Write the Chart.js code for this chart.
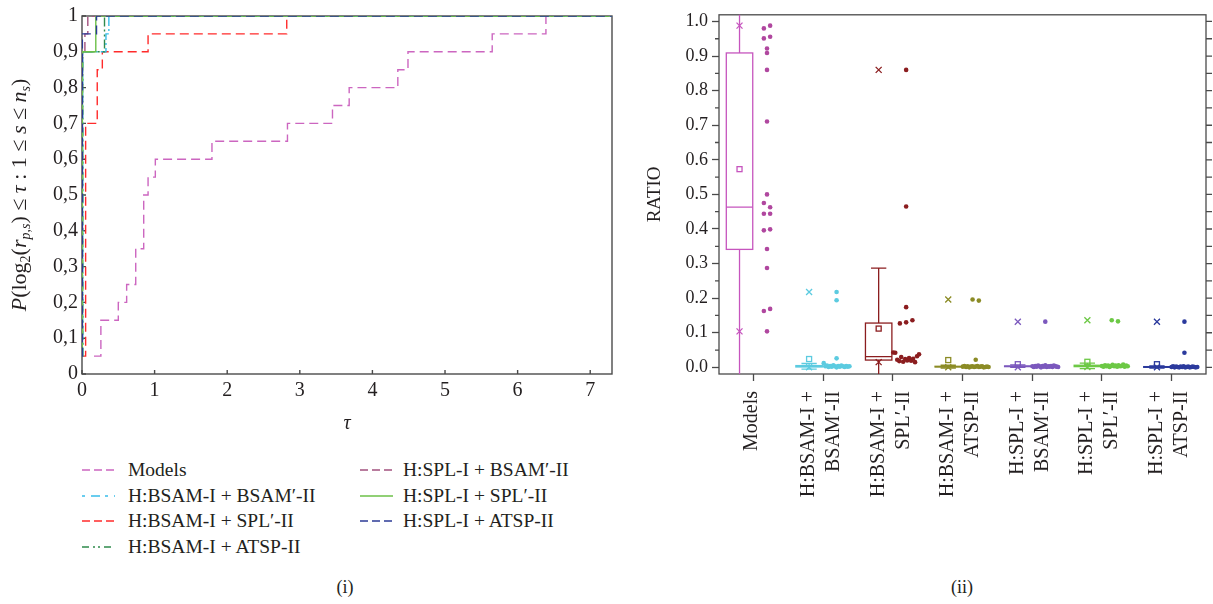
<!DOCTYPE html>
<html><head><meta charset="utf-8">
<script src="https://cdn.jsdelivr.net/npm/chart.js@4.4.0/dist/chart.umd.min.js"></script>
<style>
html,body{margin:0;padding:0;background:#fff;width:1213px;height:604px;overflow:hidden;position:relative;font-family:"Liberation Serif",serif;color:#231f20}
canvas{position:absolute}
#c1{left:0;top:0}
#c2{left:640px;top:0}
.lg{position:absolute;font-size:19.5px;line-height:26px;height:26px;white-space:nowrap}
.sw{position:absolute}
.cap{position:absolute;font-size:18px;transform:translateX(-50%)}
</style></head><body>
<canvas id="c1" width="625" height="440"></canvas>
<canvas id="c2" width="573" height="540"></canvas>
<div id="legend"></div>
<div class="cap" style="left:345px;top:577px">(i)</div>
<div class="cap" style="left:962px;top:577px">(ii)</div>
<script>
// ---------------- DATA: panel (i) performance profiles ----------------
const seriesNames = ['Models','H:BSAM-I + BSAM\u2032-II','H:BSAM-I + SPL\u2032-II','H:BSAM-I + ATSP-II','H:SPL-I + BSAM\u2032-II','H:SPL-I + SPL\u2032-II','H:SPL-I + ATSP-II'];
const tauModels   = [0.165, 0.26, 0.50, 0.615, 0.74, 0.85, 0.91, 1.01, 1.79, 2.83, 3.45, 3.68, 4.35, 4.49, 5.65, 6.39, 7.3];
const pModels     = [0.05, 0.15, 0.20, 0.25, 0.35, 0.50, 0.55, 0.60, 0.65, 0.70, 0.75, 0.80, 0.85, 0.90, 0.95, 1.00, 1.00];
const tauBsamBsam = [0, 0.01, 0.33, 0.37, 7.3];
const pBsamBsam   = [0.05, 0.90, 0.95, 1.00, 1.00];
const tauBsamSpl  = [0, 0.05, 0.21, 0.28, 0.91, 2.82, 7.3];
const pBsamSpl    = [0.05, 0.70, 0.85, 0.90, 0.95, 1.00, 1.00];
const tauBsamAtsp = [0, 0.01, 0.31, 7.3];
const pBsamAtsp   = [0.05, 0.90, 1.00, 1.00];
const tauSplBsam  = [0, 0.005, 0.04, 0.08, 7.3];
const pSplBsam    = [0.05, 0.90, 0.95, 1.00, 1.00];
const tauSplSpl   = [0, 0.005, 0.19, 7.3];
const pSplSpl     = [0.05, 0.90, 1.00, 1.00];
const tauSplAtsp  = [0, 0.005, 0.20, 7.3];
const pSplAtsp    = [0.05, 0.95, 1.00, 1.00];
const leftXTicks  = [0, 1, 2, 3, 4, 5, 6, 7];
const leftYTicks  = [0, 0.1, 0.2, 0.3, 0.4, 0.5, 0.6, 0.7, 0.8, 0.9, 1];
const leftYLabels = ['0','0,1','0,2','0,3','0,4','0,5','0,6','0,7','0,8','0,9','1'];
const leftXTitle  = '\u03c4';
// y-axis title of panel (i), as styled pieces: text, italic, subscript
const leftYTitle  = [['P',1,0],['(log',0,0],['2',0,1],['(',0,0],['r',1,0],['p,s',1,1],[') \u2264 ',0,0],['\u03c4',1,0],[' : 1 \u2264 ',0,0],['s',1,0],[' \u2264 ',0,0],['n',1,0],['s',1,1],[')',0,0]];

// ---------------- DATA: panel (ii) box chart ----------------
const categories = [['Models'],['H:BSAM-I +','BSAM\u2032-II'],['H:BSAM-I +','SPL\u2032-II'],['H:BSAM-I +','ATSP-II'],['H:SPL-I +','BSAM\u2032-II'],['H:SPL-I +','SPL\u2032-II'],['H:SPL-I +','ATSP-II']];
const ratioModels   = [0.980,0.988,0.922,0.951,0.956,0.909,0.860,0.711,0.500,0.475,0.463,0.444,0.444,0.396,0.399,0.342,0.287,0.163,0.169,0.104];
const ratioBsamBsam = [0.218,0.194,0.026,0.012,0.003,0.005,0.001,0.004,0.002,0.006,0.003,0.000,0.004,0.002,0.005,0.003,0.001,0.004,0.002,0.003];
const ratioBsamSpl  = [0.860,0.465,0.174,0.127,0.130,0.136,0.043,0.042,0.022,0.018,0.030,0.016,0.024,0.020,0.027,0.019,0.025,0.015,0.032,0.038];
const ratioBsamAtsp = [0.196,0.193,0.022,0.002,0.004,0.001,0.003,0.000,0.002,0.003,0.001,0.002,0.004,0.001,0.002,0.003,0.000,0.001,0.002,0.001];
const ratioSplBsam  = [0.132,0.003,0.001,0.004,0.002,0.005,0.003,0.000,0.004,0.002,0.006,0.001,0.003,0.002,0.004,0.001,0.005,0.003,0.002,0.001];
const ratioSplSpl   = [0.136,0.133,0.004,0.002,0.006,0.003,0.005,0.001,0.004,0.007,0.003,0.005,0.002,0.006,0.003,0.004,0.008,0.002,0.005,0.003];
const ratioSplAtsp  = [0.132,0.042,0.001,0.003,0.000,0.002,0.001,0.000,0.002,0.001,0.003,0.000,0.001,0.002,0.000,0.001,0.002,0.001,0.000,0.001];
const boxQ1       = [0.341, 0.001, 0.021, 0.001, 0.002, 0.002, 0.000];
const boxMedian   = [0.463, 0.003, 0.031, 0.002, 0.003, 0.004, 0.001];
const boxQ3       = [0.909, 0.005, 0.128, 0.003, 0.004, 0.006, 0.002];
const boxMean     = [0.573, 0.024, 0.112, 0.021, 0.009, 0.016, 0.009];
const whiskerLow  = [-0.51, -0.005, -0.140, -0.002, 0.000, -0.004, -0.002];
const whiskerHigh = [1.76, 0.011, 0.287, 0.006, 0.007, 0.012, 0.004];
const markMin     = [0.104, 0.000, 0.015, 0.000, 0.000, 0.001, 0.000];
const markMax     = [0.988, 0.218, 0.860, 0.196, 0.132, 0.136, 0.132];
const rightYTicks  = [0,0.1,0.2,0.3,0.4,0.5,0.6,0.7,0.8,0.9,1.0];
const rightYLabels = ['0.0','0.1','0.2','0.3','0.4','0.5','0.6','0.7','0.8','0.9','1.0'];

// ---------------- STYLES ----------------
const FONT = '"Liberation Serif", "DejaVu Serif", serif';
const INK = '#231f20';
const FRAME = '#4a4a4a';
Chart.defaults.font.family = FONT;
Chart.defaults.color = INK;

const profileTau = [tauModels, tauBsamBsam, tauBsamSpl, tauBsamAtsp, tauSplBsam, tauSplSpl, tauSplAtsp];
const profileP   = [pModels, pBsamBsam, pBsamSpl, pBsamAtsp, pSplBsam, pSplSpl, pSplAtsp];
const profileStyle = [
  {color:'#cc66c0', dash:[9,5],   ldash:'8 4'},
  {color:'#38bdea', dash:[9,3,2,3], ldash:'3 6 9 5'},
  {color:'#ff2b2b', dash:[9,5],   ldash:'8 4'},
  {color:'#2f8a4c', dash:[9,3,2,3,2,3], ldash:'7 4 2 3 2 4'},
  {color:'#a3527f', dash:[9,5],   ldash:'8 4'},
  {color:'#6cc048', dash:[],      ldash:''},
  {color:'#2d3b96', dash:[9,5],   ldash:'8 4'}
];
const drawOrder = [6,5,3,1,4,2,0]; // first is drawn on top

const ratioSets = [ratioModels, ratioBsamBsam, ratioBsamSpl, ratioBsamAtsp, ratioSplBsam, ratioSplSpl, ratioSplAtsp];
const boxColors = ['#c655be','#5ccbe0','#8b1d1f','#8b8b25','#7b58bd','#6cc845','#2b3a9d'];
const dotColors = ['#b0479f','#5ccbe0','#8b1d1f','#8b8b25','#7b58bd','#6cc845','#2b3a9d'];
const BOX_SHIFT = -0.205, BOX_HALF = 0.19, CAP_HALF = 0.11, DOT_CENTER = 0.19;

// ---------------- PANEL (i) ----------------
const leftFrame = {
  id:'leftFrame',
  beforeDatasetsDraw(chart){
    const {ctx, chartArea:a, scales:{x,y}} = chart;
    ctx.save();
    ctx.strokeStyle = FRAME; ctx.lineWidth = 1.4;
    ctx.strokeRect(a.left, a.top, a.right-a.left, a.bottom-a.top);
    ctx.beginPath();
    x.ticks.forEach(t=>{const p=x.getPixelForValue(t.value); ctx.moveTo(p,a.bottom); ctx.lineTo(p,a.bottom-4);});
    y.ticks.forEach(t=>{const p=y.getPixelForValue(t.value); ctx.moveTo(a.left,p); ctx.lineTo(a.left+4,p);});
    ctx.stroke();
    ctx.restore();
  },
  afterDraw(chart){
    // rich y-axis title (italic / subscript pieces)
    const {ctx, chartArea:a} = chart;
    const size = 22, sub = 14;
    const fontOf = (it, sb) => (it ? 'italic ' : '') + (sb ? sub : size) + 'px ' + FONT;
    ctx.save();
    let total = 0;
    const widths = leftYTitle.map(([t,it,sb])=>{ ctx.font = fontOf(it,sb); const w = ctx.measureText(t).width; total += w; return w; });
    const cy = (a.top + a.bottom)/2;
    ctx.translate(19, cy + total/2);
    ctx.rotate(-Math.PI/2);
    ctx.fillStyle = INK; ctx.textAlign = 'left'; ctx.textBaseline = 'alphabetic';
    let xx = 0;
    leftYTitle.forEach(([t,it,sb],k)=>{
      ctx.font = fontOf(it,sb);
      ctx.fillText(t, xx, sb ? 11 : 7);
      xx += widths[k];
    });
    ctx.restore();
  }
};

new Chart(document.getElementById('c1'), {
  type:'line',
  data:{
    datasets: drawOrder.map(i=>({
      label: seriesNames[i],
      data: profileTau[i].map((t,k)=>({x:t, y:profileP[i][k]})),
      borderColor: profileStyle[i].color,
      borderDash: profileStyle[i].dash,
      borderWidth: 1.4,
      stepped: true,
      pointRadius: 0,
      fill: false
    }))
  },
  options:{
    responsive:false, animation:false,
    layout:{padding:{top:15,right:13,left:0,bottom:0}},
    plugins:{legend:{display:false}, tooltip:{enabled:false}},
    scales:{
      x:{type:'linear', min:0, max:7.3,
        afterBuildTicks(s){ s.ticks = leftXTicks.map(v=>({value:v})); },
        ticks:{font:{size:20}, color:INK, padding:5, maxRotation:0, callback:(v)=>String(v)},
        grid:{display:false, drawTicks:false}, border:{display:false},
        title:{display:true, text:leftXTitle, font:{size:20, style:'italic'}, color:INK, padding:{top:4,bottom:4}},
        afterFit(s){ s.height = 66; }
      },
      y:{type:'linear', min:0, max:1,
        afterBuildTicks(s){ s.ticks = leftYTicks.map(v=>({value:v})); },
        ticks:{font:{size:20}, color:INK, padding:4, callback:(v,i)=>leftYLabels[i]},
        grid:{display:false, drawTicks:false}, border:{display:false},
        title:{display:false},
        afterFit(s){ s.width = 82; }
      }
    }
  },
  plugins:[leftFrame]
});

// legend for panel (i)
(function(){
  const cols = [[0,1,2,3],[4,5,6]];
  const colX = [{sw:82, tx:128},{sw:360, tx:403}];
  const top0 = 457, rowH = 25.7;
  const host = document.getElementById('legend');
  cols.forEach((col,c)=>col.forEach((si,r)=>{
    const st = profileStyle[si];
    const y = top0 + r*rowH;
    const sw = document.createElementNS('http://www.w3.org/2000/svg','svg');
    sw.setAttribute('width','33'); sw.setAttribute('height','26'); sw.setAttribute('class','sw');
    sw.style.left = colX[c].sw+'px'; sw.style.top = y+'px';
    const ln = document.createElementNS('http://www.w3.org/2000/svg','line');
    ln.setAttribute('x1','0'); ln.setAttribute('x2','33'); ln.setAttribute('y1','13'); ln.setAttribute('y2','13');
    ln.setAttribute('stroke', st.color); ln.setAttribute('stroke-width','1.6');
    if (st.ldash) ln.setAttribute('stroke-dasharray', st.ldash);
    sw.appendChild(ln); host.appendChild(sw);
    const d = document.createElement('div');
    d.className = 'lg'; d.style.left = colX[c].tx+'px'; d.style.top = y+'px';
    d.textContent = seriesNames[si];
    host.appendChild(d);
  }));
})();

// ---------------- PANEL (ii) ----------------
// horizontal spread of points that share (nearly) the same value; order within a group follows the data order
function jitterOffsets(vals){
  const idx = vals.map((v,k)=>k).sort((a,b)=>vals[a]-vals[b]);
  const out = new Array(vals.length);
  let start = 0;
  for (let j=1;j<=idx.length;j++){
    if (j===idx.length || vals[idx[j]]-vals[idx[j-1]] >= 0.012){
      const grp = idx.slice(start,j).sort((a,b)=>a-b);
      const n = grp.length, w = Math.min(0.37,(n-1)*0.09);
      grp.forEach((g,k)=>{ out[g] = DOT_CENTER + (n===1 ? 0 : -w/2 + k*w/(n-1)); });
      start = j;
    }
  }
  return out;
}

const boxPlugin = {
  id:'boxPlugin',
  beforeDatasetsDraw(chart){
    const {ctx, chartArea:a, scales:{y}} = chart;
    ctx.save();
    ctx.strokeStyle = FRAME; ctx.lineWidth = 1.3;
    ctx.strokeRect(a.left, a.top, a.right-a.left, a.bottom-a.top);
    ctx.beginPath();
    for (let k=0;k<rightYTicks.length;k++){
      const p = y.getPixelForValue(rightYTicks[k]);
      ctx.moveTo(a.right,p); ctx.lineTo(a.right+6,p);
      if (k<rightYTicks.length-1){
        const mv = (rightYTicks[k]+rightYTicks[k+1])/2, mp = y.getPixelForValue(mv);
        ctx.moveTo(a.left,mp); ctx.lineTo(a.left-4,mp);
        ctx.moveTo(a.right,mp); ctx.lineTo(a.right+6,mp);
      }
    }
    ctx.stroke();
    ctx.restore();
  },
  afterDatasetsDraw(chart){
    const {ctx, chartArea:a, scales:{x,y}} = chart;
    ctx.save();
    ctx.beginPath(); ctx.rect(a.left,a.top,a.right-a.left,a.bottom-a.top); ctx.clip();
    categories.forEach((c,i)=>{
      const cx = x.getPixelForValue(i+1+BOX_SHIFT);
      const hw = x.getPixelForValue(i+1+BOX_SHIFT+BOX_HALF) - cx;
      const cw = x.getPixelForValue(i+1+BOX_SHIFT+CAP_HALF) - cx;
      const yq1 = y.getPixelForValue(boxQ1[i]), yq3 = y.getPixelForValue(boxQ3[i]);
      const ymd = y.getPixelForValue(boxMedian[i]), ymn = y.getPixelForValue(boxMean[i]);
      const ylo = y.getPixelForValue(whiskerLow[i]), yhi = y.getPixelForValue(whiskerHigh[i]);
      ctx.strokeStyle = boxColors[i]; ctx.lineWidth = 1.3;
      ctx.beginPath();
      ctx.moveTo(cx,yq3); ctx.lineTo(cx,yhi);
      ctx.moveTo(cx,yq1); ctx.lineTo(cx,ylo);
      ctx.moveTo(cx-cw,yhi); ctx.lineTo(cx+cw,yhi);
      ctx.moveTo(cx-cw,ylo); ctx.lineTo(cx+cw,ylo);
      ctx.stroke();
      ctx.strokeRect(cx-hw, yq3, 2*hw, yq1-yq3);
      ctx.beginPath(); ctx.moveTo(cx-hw,ymd); ctx.lineTo(cx+hw,ymd); ctx.stroke();
      ctx.strokeRect(cx-2.5, ymn-2.5, 5, 5);
      [markMin[i], markMax[i]].forEach(v=>{
        const p = y.getPixelForValue(v), s = 3;
        ctx.beginPath();
        ctx.moveTo(cx-s,p-s); ctx.lineTo(cx+s,p+s);
        ctx.moveTo(cx+s,p-s); ctx.lineTo(cx-s,p+s);
        ctx.stroke();
      });
    });
    ctx.restore();
  },
  afterDraw(chart){
    const {ctx, chartArea:a, scales:{x}} = chart;
    ctx.save();
    ctx.fillStyle = INK;
    ctx.font = '20px ' + FONT;
    categories.forEach((lines,i)=>{
      const px = x.getPixelForValue(i+1);
      lines.forEach((ln,k)=>{
        const off = (k-(lines.length-1)/2)*25 - 2;
        ctx.save();
        ctx.translate(px+off, a.bottom+17);
        ctx.rotate(-Math.PI/2);
        ctx.textAlign = 'right'; ctx.textBaseline = 'middle';
        ctx.fillText(ln, 0, 0);
        ctx.restore();
      });
    });
    ctx.restore();
  }
};

new Chart(document.getElementById('c2'), {
  type:'scatter',
  data:{
    datasets: ratioSets.map((vals,i)=>{
      const jit = jitterOffsets(vals);
      return {
        label: categories[i].join(' '),
        data: vals.map((v,k)=>({x:i+1+jit[k], y:v})),
        backgroundColor: dotColors[i],
        borderWidth: 0,
        pointRadius: 2.3,
        pointHoverRadius: 2.3
      };
    })
  },
  options:{
    responsive:false, animation:false,
    layout:{padding:{top:14,right:7,left:0,bottom:0}},
    plugins:{legend:{display:false}, tooltip:{enabled:false}},
    scales:{
      x:{type:'linear', min:0.5, max:7.5,
        afterBuildTicks(s){ s.ticks = categories.map((c,i)=>({value:i+1})); },
        ticks:{display:false},
        grid:{display:true, drawOnChartArea:false, drawTicks:true, tickLength:7, tickColor:FRAME, tickWidth:1.3},
        border:{display:false},
        afterFit(s){ s.height = 166; }
      },
      y:{type:'linear', min:-0.0193, max:1.0193,
        afterBuildTicks(s){ s.ticks = rightYTicks.map(v=>({value:v})); },
        ticks:{font:{size:18}, color:INK, padding:4, callback:(v,i)=>rightYLabels[i]},
        grid:{display:true, drawOnChartArea:false, drawTicks:true, tickLength:7, tickColor:FRAME, tickWidth:1.3},
        border:{display:false},
        title:{display:true, text:'RATIO', font:{size:19}, color:INK, padding:{top:4,bottom:4}},
        afterFit(s){ s.width = 79; }
      }
    }
  },
  plugins:[boxPlugin]
});
</script>
</body></html>
